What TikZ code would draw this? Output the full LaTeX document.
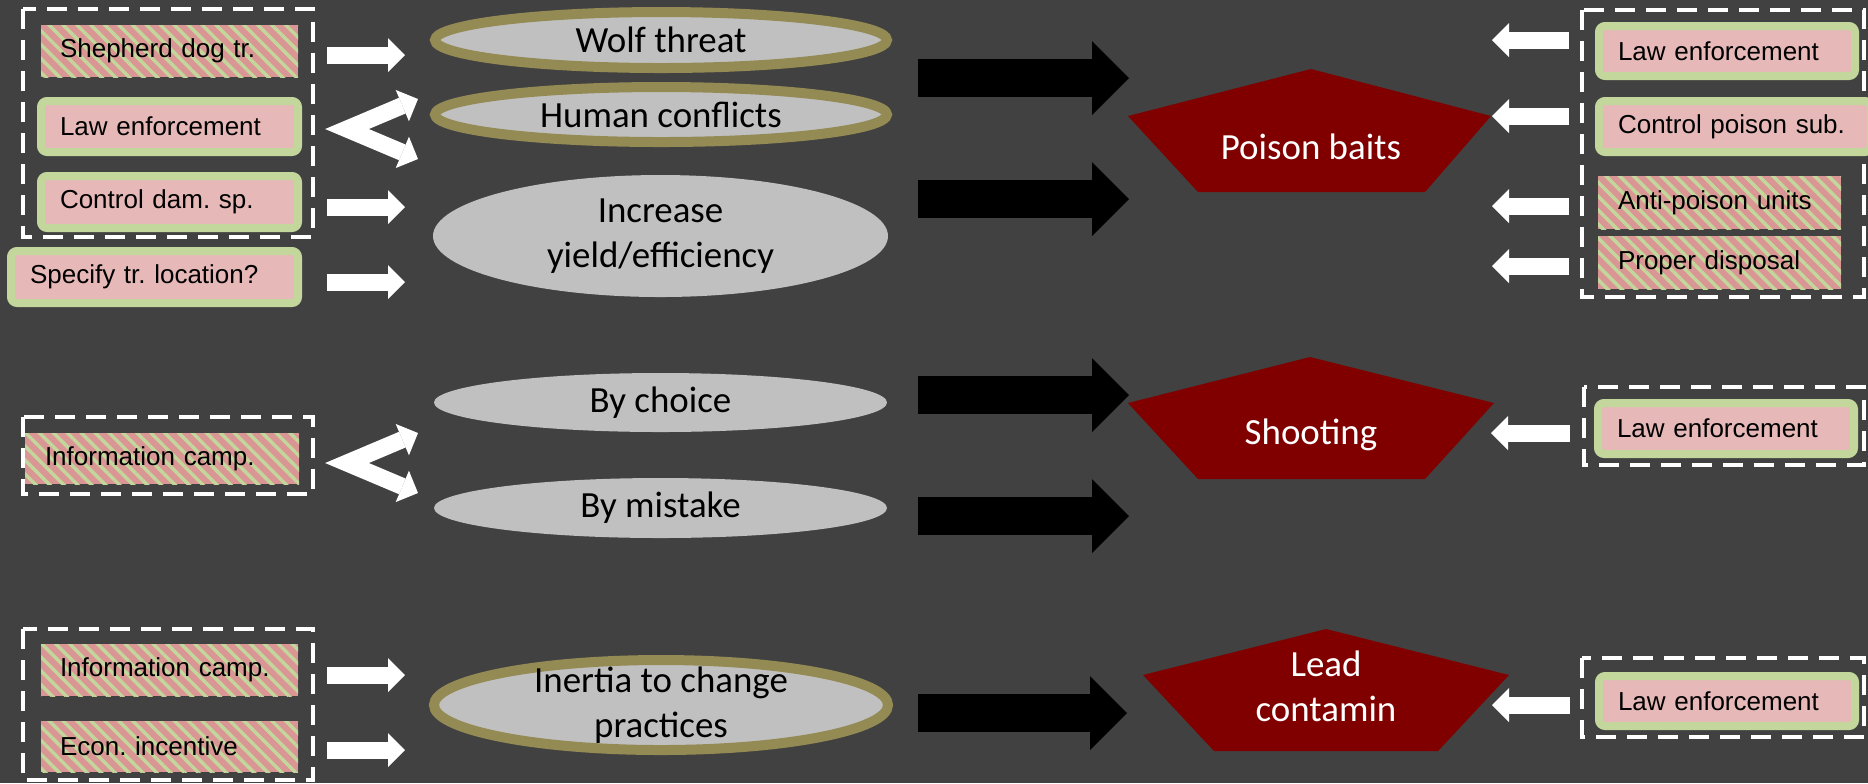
\documentclass[tikz,border=0pt]{standalone}
\usepackage{fontspec}
\setmainfont{Carlito}
\newfontfamily\arialfont{Liberation Sans}
\usetikzlibrary{shapes.geometric,arrows.meta,patterns.meta}
\definecolor{bgslate}{HTML}{414141}
\definecolor{ovalgrey}{HTML}{C0C0C0}
\definecolor{ovalrim}{HTML}{948A54}
\definecolor{threatred}{HTML}{800000}
\definecolor{leafgreen}{HTML}{C3D69B}
\definecolor{blushpink}{HTML}{E6B9B8}
\definecolor{rosepink}{HTML}{D99694}
\frenchspacing

\begin{document}
\begin{tikzpicture}[x=0.1mm,y=-0.1mm,line cap=butt,
  cause/.style={ellipse,fill=ovalgrey,inner sep=-3mm,align=center,
    font=\fontsize{10.5}{12.6}\selectfont},
  rimmed/.style={draw=ovalrim,line width=1mm},
  measure/.style={draw=leafgreen,line width=0.8mm,fill=blushpink,rounded corners=0.6mm,
    inner xsep=1.9mm,inner ysep=0pt,minimum height=5.1mm,align=left,
    font=\arialfont\fontsize{7.4}{9}\selectfont},
  planned/.style={preaction={fill=rosepink},
    pattern={Lines[angle=-45,distance=2.8pt,line width=1pt]},pattern color=leafgreen,
    inner xsep=1.9mm,inner ysep=0pt,minimum height=5.2mm,align=left,
    font=\arialfont\fontsize{7.4}{9}\selectfont},
  group/.style={draw=white,line width=0.4mm,dash pattern=on 2mm off 1.1mm},
  threat/.style={fill=threatred},
  threatlabel/.style={text=white,align=center,font=\fontsize{10.5}{12.8}\selectfont},
  push/.style={draw=white,line width=1.7mm,-{Triangle[length=1.7mm,width=3.4mm,line width=0pt]}},
  fork/.style={draw=white,line width=1.7mm,line join=miter,
    {Triangle[length=1.7mm,width=3.4mm,line width=0pt]}-{Triangle[length=1.7mm,width=3.4mm,line width=0pt]}},
  drive/.style={draw=black,line width=3.8mm,-{Triangle[length=3.7mm,width=7.4mm,line width=0pt]}}]

\path[use as bounding box,fill=bgslate] (0,0) rectangle (1868,783);
\clip (0,0) rectangle (1868,783);

% groups of measures
\draw[group] (23,9) rectangle (313,237);
\draw[group] (23,417) rectangle (313,494);
\draw[group] (23,629) rectangle (313,780);
\draw[group] (1582,10) rectangle (1864,297);
\draw[group] (1584,387) rectangle (1864,465);
\draw[group] (1582,658) rectangle (1864,737);

% left measures
\node[planned,text width=21.9mm] (shepherd) at (169.5,51) {Shepherd dog tr.};
\node[measure,text width=21.9mm] (lawA) at (169.5,126.5) {Law enforcement};
\node[measure,text width=21.9mm,minimum height=5.2mm] (damage) at (169.5,202) {Control dam. sp.};
\node[measure,text width=24.9mm,minimum height=5.2mm] (traps) at (154.5,277) {Specify tr. location?};
\node[planned,text width=23.4mm,inner xsep=2mm,minimum height=5.1mm] (infoA) at (162,458.5) {Information camp.};
\node[planned,text width=21.9mm] (infoB) at (169.5,670) {Information camp.};
\node[planned,text width=21.9mm,minimum height=5.1mm] (incentive) at (169.5,746.5) {Econ. incentive};

% right measures
\node[measure,text width=21.8mm,minimum height=5mm] (lawB) at (1727,51) {Law enforcement};
\node[measure,text width=23.4mm] (poisonctl) at (1735,126.5) {Control poison sub.};
\node[planned,text width=20.3mm,inner xsep=2mm,minimum height=5.3mm] (units) at (1719.5,202.5) {Anti-poison units};
\node[planned,text width=20.3mm,inner xsep=2mm,minimum height=5.3mm] (disposal) at (1719.5,262.5) {Proper disposal};
\node[measure,text width=21.8mm] (lawC) at (1726,428.5) {Law enforcement};
\node[measure,text width=21.8mm,minimum height=5mm] (lawD) at (1727,701) {Law enforcement};

% drivers
\node[cause,rimmed,minimum width=45.2mm,minimum height=5.6mm] (wolf) at (661,40) {Wolf threat};
\node[cause,rimmed,minimum width=45.2mm,minimum height=5.5mm] (conflict) at (661,114.5) {Human conflicts};
\node[cause,minimum width=45.5mm,minimum height=12.2mm] (yield) at (660.5,236) {Increase\\yield/efficiency};
\node[cause,minimum width=45.3mm,minimum height=5.9mm] (choice) at (660.5,402.5) {By choice};
\node[cause,minimum width=45.3mm,minimum height=6mm] (mistake) at (660.5,508) {By mistake};
\node[cause,rimmed,minimum width=45.4mm,minimum height=9mm] (inertia) at (661,705) {Inertia to change\\practices};

% threats
\fill[threat] (1128,116) -- (1311,69) -- (1491,116) -- (1425,192) -- (1198,192) -- cycle;
\node[threatlabel] (poison) at (1311,147) {Poison baits};
\fill[threat] (1128,403) -- (1310,357) -- (1494,403) -- (1425,479) -- (1198,479) -- cycle;
\node[threatlabel] (shoot) at (1311,435) {Shooting};
\fill[threat] (1143,675) -- (1326,629) -- (1509,675) -- (1438,751) -- (1214,751) -- cycle;
\node[threatlabel] (lead) at (1326,686) {Lead\\contamin};

% arrow ends
\path (327,55) coordinate (sA) (405,55) coordinate (sB)
      (418,99) coordinate (lA) (347,129) coordinate (lV) (418,159) coordinate (lB)
      (327,207) coordinate (dA) (405,207) coordinate (dB)
      (327,282) coordinate (tA) (405,282) coordinate (tB)
      (418,433) coordinate (iA) (347,463) coordinate (iV) (418,493) coordinate (iB)
      (327,675) coordinate (nA) (405,675) coordinate (nB)
      (327,750) coordinate (eA) (405,750) coordinate (eB);
\path (1569,40) coordinate (rA) (1492,40) coordinate (rB)
      (1569,116) coordinate (cA) (1492,116) coordinate (cB)
      (1569,206) coordinate (uA) (1492,206) coordinate (uB)
      (1569,266) coordinate (pA) (1492,266) coordinate (pB)
      (1570,433) coordinate (kA) (1491,433) coordinate (kB)
      (1570,705) coordinate (mA) (1492,705) coordinate (mB);
\path (918,78) coordinate (b1) (1129,78) coordinate (p1)
      (918,199) coordinate (b2) (1129,199) coordinate (p2)
      (918,395) coordinate (b3) (1129,395) coordinate (p3)
      (918,516) coordinate (b4) (1129,516) coordinate (p4)
      (918,713) coordinate (b5) (1127,713) coordinate (p5);

\draw[push] (sA) -- (sB);
\draw[fork] (lA) -- (lV) -- (lB);
\draw[push] (dA) -- (dB);
\draw[push] (tA) -- (tB);
\draw[fork] (iA) -- (iV) -- (iB);
\draw[push] (nA) -- (nB);
\draw[push] (eA) -- (eB);

\draw[push] (rA) -- (rB);
\draw[push] (cA) -- (cB);
\draw[push] (uA) -- (uB);
\draw[push] (pA) -- (pB);
\draw[push] (kA) -- (kB);
\draw[push] (mA) -- (mB);

\draw[drive] (b1) -- (p1);
\draw[drive] (b2) -- (p2);
\draw[drive] (b3) -- (p3);
\draw[drive] (b4) -- (p4);
\draw[drive] (b5) -- (p5);
\end{tikzpicture}
\end{document}
